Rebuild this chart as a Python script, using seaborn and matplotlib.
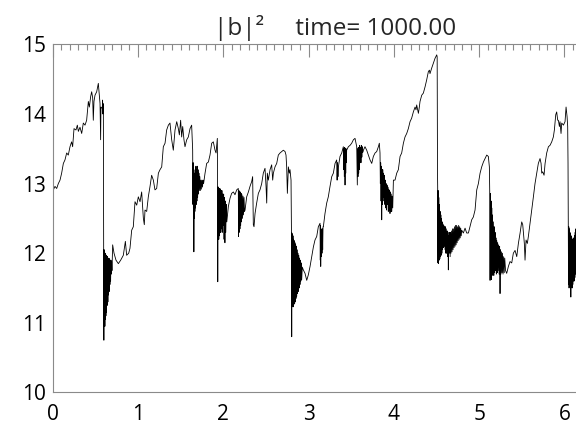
import matplotlib
matplotlib.use("Agg")

import numpy as np
import pandas as pd
import matplotlib.pyplot as plt
from matplotlib.ticker import MultipleLocator
import seaborn as sns

# |b|^2 time series as (time, |b|^2) pairs, one list per cycle
rise_1 = [
    (0.000, 13.15), (0.009, 12.91), (0.028, 12.96), (0.048, 12.93), (0.067, 13.00),
    (0.087, 13.05), (0.106, 13.15), (0.126, 13.29), (0.145, 13.34), (0.165, 13.44),
    (0.184, 13.41), (0.204, 13.53), (0.223, 13.60), (0.235, 13.53), (0.251, 13.79),
    (0.274, 13.77), (0.290, 13.84), (0.302, 13.75), (0.321, 13.81), (0.341, 13.72),
    (0.360, 13.87), (0.380, 13.84), (0.399, 13.91), (0.419, 14.18), (0.431, 14.10),
    (0.446, 14.25), (0.458, 14.32), (0.470, 14.23), (0.477, 13.91), (0.485, 14.18),
    (0.497, 14.27), (0.517, 14.32), (0.536, 14.44), (0.548, 14.27), (0.556, 14.15),
    (0.563, 13.63), (0.567, 14.10), (0.583, 14.08), (0.586, 14.20), (0.589, 14.00),
    (0.592, 14.15), (0.595, 14.05),
]

cycle_2 = [
    (0.598, 12.50), (0.601, 10.75), (0.604, 12.05), (0.607, 11.00), (0.610, 12.00),
    (0.613, 10.95), (0.616, 12.00), (0.619, 11.05), (0.622, 11.98), (0.625, 11.10),
    (0.628, 11.97), (0.632, 11.15), (0.636, 11.95), (0.640, 11.25), (0.644, 11.95),
    (0.648, 11.30), (0.652, 11.93), (0.656, 11.40), (0.660, 11.92), (0.664, 11.45),
    (0.668, 11.92), (0.672, 11.55), (0.676, 11.90), (0.680, 11.60), (0.684, 11.90),
    (0.688, 11.70), (0.692, 11.88), (0.696, 11.75), (0.700, 11.95), (0.704, 12.12),
    (0.720, 12.00), (0.743, 11.90), (0.771, 11.85), (0.798, 11.90), (0.829, 11.97),
    (0.853, 12.17), (0.868, 11.97), (0.892, 12.00), (0.907, 12.07), (0.927, 12.33),
    (0.946, 12.38), (0.966, 12.74), (0.986, 12.69), (1.005, 12.81), (1.025, 12.74),
    (1.044, 12.88), (1.064, 12.50), (1.075, 12.41), (1.083, 12.62), (1.103, 12.60),
    (1.122, 12.81), (1.142, 12.96), (1.161, 13.12), (1.181, 13.05), (1.200, 12.91),
    (1.220, 12.93), (1.240, 13.15), (1.259, 13.20), (1.279, 13.24), (1.298, 13.53),
    (1.318, 13.58), (1.337, 13.77), (1.357, 13.84), (1.376, 13.87), (1.396, 13.63),
    (1.415, 13.48), (1.435, 13.77), (1.455, 13.89), (1.474, 13.79), (1.486, 13.70),
    (1.501, 13.91), (1.513, 13.67), (1.525, 13.82), (1.540, 13.63), (1.552, 13.53),
    (1.572, 13.63), (1.591, 13.67), (1.611, 13.79), (1.630, 13.84),
]

cycle_3 = [
    (1.642, 13.48), (1.645, 12.70), (1.648, 13.30), (1.651, 12.55), (1.654, 13.20),
    (1.656, 12.02), (1.659, 13.10), (1.662, 12.50), (1.665, 13.15), (1.668, 12.60),
    (1.672, 13.20), (1.676, 12.65), (1.680, 13.25), (1.684, 12.70), (1.688, 13.20),
    (1.692, 12.75), (1.696, 13.25), (1.700, 12.80), (1.705, 13.20), (1.710, 12.85),
    (1.715, 13.15), (1.720, 12.90), (1.726, 13.10), (1.732, 12.90), (1.738, 13.05),
    (1.744, 12.92), (1.750, 13.05), (1.757, 12.95), (1.764, 13.05), (1.770, 13.00),
    (1.787, 13.15), (1.806, 13.29), (1.826, 13.31), (1.845, 13.41), (1.865, 13.58),
    (1.884, 13.60), (1.904, 13.48), (1.916, 13.44), (1.931, 13.65),
]

cycle_4 = [
    (1.934, 12.90), (1.936, 11.59), (1.939, 12.95), (1.942, 12.20), (1.945, 12.95),
    (1.948, 12.20), (1.952, 12.93), (1.956, 12.25), (1.960, 12.93), (1.964, 12.30),
    (1.968, 12.92), (1.972, 12.30), (1.976, 12.90), (1.980, 12.35), (1.985, 12.90),
    (1.990, 12.30), (1.995, 12.85), (2.000, 12.40), (2.005, 12.85), (2.010, 12.20),
    (2.015, 12.80), (2.020, 12.15), (2.025, 12.75), (2.030, 12.30), (2.036, 12.70),
    (2.042, 12.45), (2.048, 12.52), (2.060, 12.67), (2.080, 12.79), (2.099, 12.86),
    (2.119, 12.88), (2.138, 12.84), (2.158, 12.91), (2.177, 12.93), (2.180, 12.24),
    (2.184, 12.90), (2.188, 12.30), (2.192, 12.88), (2.196, 12.35), (2.200, 12.88),
    (2.205, 12.40), (2.210, 12.86), (2.215, 12.45), (2.220, 12.84), (2.226, 12.50),
    (2.232, 12.82), (2.238, 12.55), (2.244, 12.80), (2.250, 12.60), (2.256, 12.62),
    (2.275, 12.81), (2.295, 12.88), (2.314, 12.96), (2.334, 13.03), (2.345, 13.10),
    (2.353, 12.41), (2.361, 12.38), (2.373, 12.57), (2.392, 12.72), (2.412, 12.86),
    (2.431, 12.91), (2.451, 13.00), (2.470, 13.15), (2.490, 13.22), (2.502, 12.96),
    (2.510, 12.72), (2.517, 13.15), (2.529, 13.05), (2.549, 13.20), (2.568, 13.27),
    (2.580, 13.05), (2.588, 13.15), (2.607, 13.24), (2.627, 13.29), (2.646, 13.41),
    (2.666, 13.44), (2.685, 13.46), (2.705, 13.48), (2.725, 13.46), (2.736, 13.41),
    (2.744, 13.24), (2.752, 12.86), (2.764, 13.24), (2.775, 13.15), (2.783, 13.20),
    (2.795, 13.05),
]

cycle_5 = [
    (2.800, 12.30), (2.803, 10.80), (2.806, 12.29), (2.809, 11.23), (2.812, 12.27),
    (2.815, 11.25), (2.818, 12.25), (2.821, 11.23), (2.825, 12.20), (2.829, 11.30),
    (2.833, 12.18), (2.837, 11.27), (2.841, 12.15), (2.845, 11.30), (2.849, 12.12),
    (2.853, 11.35), (2.857, 12.10), (2.861, 11.38), (2.865, 12.05), (2.870, 11.42),
    (2.875, 12.00), (2.880, 11.45), (2.885, 11.97), (2.890, 11.50), (2.895, 11.93),
    (2.900, 11.55), (2.905, 11.90), (2.910, 11.60), (2.915, 11.86), (2.920, 11.62),
    (2.927, 11.80), (2.939, 11.76), (2.959, 11.71), (2.979, 11.61), (2.998, 11.69),
    (3.018, 11.81), (3.037, 11.95), (3.057, 12.09), (3.076, 12.19), (3.096, 12.24),
    (3.115, 12.38), (3.135, 12.43), (3.138, 11.90), (3.141, 12.40), (3.143, 11.81),
    (3.147, 12.35), (3.151, 11.95), (3.154, 12.33), (3.158, 12.00), (3.162, 12.35),
    (3.166, 12.05), (3.170, 12.38), (3.174, 12.38), (3.193, 12.57), (3.213, 12.72),
    (3.232, 12.81), (3.252, 12.96), (3.272, 13.10), (3.291, 13.15), (3.311, 13.29),
    (3.330, 13.34), (3.335, 13.05), (3.340, 13.30), (3.345, 13.10), (3.350, 13.24),
    (3.369, 13.39), (3.389, 13.44), (3.408, 13.53), (3.412, 13.20), (3.416, 13.50),
    (3.420, 13.10), (3.424, 13.52), (3.428, 12.98), (3.432, 13.50), (3.436, 13.15),
    (3.440, 13.50), (3.444, 13.30), (3.447, 13.48), (3.467, 13.53), (3.487, 13.55),
    (3.506, 13.58), (3.526, 13.63), (3.545, 13.65), (3.565, 13.53), (3.569, 13.20),
    (3.572, 12.98), (3.576, 13.50), (3.580, 13.10), (3.584, 13.52), (3.588, 13.15),
    (3.592, 13.52), (3.596, 13.20), (3.600, 13.55), (3.605, 13.30), (3.610, 13.52),
    (3.615, 13.30), (3.620, 13.55), (3.625, 13.38), (3.630, 13.53), (3.636, 13.45),
    (3.643, 13.48), (3.662, 13.53), (3.682, 13.48), (3.701, 13.41), (3.721, 13.34),
    (3.741, 13.29), (3.760, 13.39), (3.780, 13.44), (3.799, 13.46), (3.819, 13.53),
    (3.830, 13.58), (3.838, 13.44), (3.842, 13.00), (3.846, 13.30), (3.850, 12.75),
    (3.854, 13.25), (3.858, 12.48), (3.862, 13.20), (3.866, 12.70), (3.870, 13.20),
    (3.875, 12.80), (3.880, 13.15), (3.885, 12.75), (3.890, 13.12), (3.895, 12.70),
    (3.900, 13.05), (3.905, 12.65), (3.910, 13.00), (3.915, 12.62), (3.920, 12.98),
    (3.925, 12.70), (3.930, 12.95), (3.935, 12.60), (3.940, 12.92), (3.945, 12.62),
    (3.950, 12.90), (3.955, 12.57), (3.960, 12.88), (3.965, 12.60), (3.970, 12.85),
    (3.975, 12.60), (3.980, 12.82), (3.987, 12.65), (3.995, 13.05), (4.014, 13.05),
    (4.034, 13.15), (4.053, 13.20), (4.073, 13.39), (4.092, 13.44), (4.112, 13.58),
    (4.131, 13.67), (4.151, 13.72), (4.170, 13.79), (4.190, 13.89), (4.209, 13.94),
    (4.229, 14.03), (4.249, 14.10), (4.260, 14.06), (4.268, 14.13), (4.288, 14.01),
    (4.299, 14.10), (4.307, 14.18), (4.327, 14.27), (4.346, 14.30), (4.366, 14.39),
    (4.385, 14.49), (4.405, 14.61), (4.417, 14.63), (4.424, 14.58), (4.444, 14.66),
    (4.463, 14.73), (4.483, 14.80), (4.503, 14.85), (4.508, 14.82),
]

cycle_6 = [
    (4.512, 13.15), (4.514, 12.96), (4.517, 11.86), (4.520, 12.90), (4.523, 11.85),
    (4.527, 12.80), (4.531, 11.90), (4.535, 12.70), (4.539, 11.92), (4.543, 12.60),
    (4.547, 11.95), (4.551, 12.55), (4.555, 11.97), (4.559, 12.50), (4.563, 12.00),
    (4.567, 12.45), (4.571, 12.05), (4.575, 12.42), (4.580, 12.08), (4.585, 12.40),
    (4.590, 12.10), (4.595, 12.38), (4.600, 12.05), (4.605, 12.38), (4.610, 12.00),
    (4.615, 12.35), (4.620, 12.00), (4.625, 12.32), (4.630, 11.95), (4.635, 12.30),
    (4.639, 11.76), (4.643, 12.25), (4.650, 12.00), (4.655, 12.30), (4.660, 11.95),
    (4.665, 12.30), (4.670, 12.00), (4.676, 12.32), (4.682, 12.02), (4.688, 12.35),
    (4.694, 12.05), (4.700, 12.35), (4.706, 12.08), (4.712, 12.38), (4.718, 12.10),
    (4.724, 12.40), (4.730, 12.12), (4.736, 12.40), (4.742, 12.15), (4.748, 12.38),
    (4.754, 12.18), (4.760, 12.40), (4.766, 12.20), (4.772, 12.38), (4.778, 12.22),
    (4.784, 12.36), (4.790, 12.25), (4.796, 12.33), (4.815, 12.29), (4.835, 12.36),
    (4.854, 12.29), (4.874, 12.29), (4.893, 12.38), (4.913, 12.48), (4.932, 12.52),
    (4.952, 12.62), (4.972, 12.91), (4.991, 13.00), (5.011, 13.15), (5.030, 13.24),
    (5.050, 13.31), (5.069, 13.36), (5.089, 13.41), (5.108, 13.39), (5.120, 13.24),
]

cycle_7 = [
    (5.124, 12.90), (5.128, 11.61), (5.132, 12.86), (5.136, 11.65), (5.140, 12.75),
    (5.144, 11.62), (5.148, 12.65), (5.152, 11.68), (5.157, 12.55), (5.162, 11.70),
    (5.167, 12.45), (5.172, 11.68), (5.177, 12.38), (5.182, 11.72), (5.187, 12.30),
    (5.192, 11.75), (5.197, 12.22), (5.202, 11.70), (5.207, 12.18), (5.212, 11.72),
    (5.217, 12.15), (5.222, 11.75), (5.228, 12.12), (5.234, 11.70), (5.240, 12.10),
    (5.245, 11.42), (5.250, 12.05), (5.256, 11.70), (5.262, 12.02), (5.268, 11.72),
    (5.274, 12.00), (5.280, 11.70), (5.287, 11.95), (5.294, 11.72), (5.300, 11.93),
    (5.310, 11.75), (5.323, 11.71), (5.343, 11.81), (5.362, 11.88), (5.382, 11.86),
    (5.401, 12.00), (5.421, 12.04), (5.441, 11.95), (5.460, 12.14), (5.480, 12.29),
    (5.499, 12.45), (5.511, 12.41), (5.519, 12.29), (5.530, 12.14), (5.538, 11.90),
    (5.550, 12.19), (5.565, 12.14), (5.577, 12.24), (5.597, 12.43), (5.616, 12.62),
    (5.636, 12.81), (5.655, 13.00), (5.675, 13.15), (5.694, 13.29), (5.714, 13.36),
    (5.726, 13.29), (5.734, 13.15), (5.745, 13.17), (5.761, 13.12), (5.773, 13.29),
    (5.792, 13.44), (5.812, 13.53), (5.831, 13.55), (5.851, 13.60), (5.870, 13.67),
    (5.882, 13.77), (5.898, 13.99), (5.909, 14.03), (5.921, 13.91), (5.929, 13.91),
    (5.941, 13.82), (5.948, 13.89), (5.960, 13.72), (5.968, 13.87), (5.988, 13.84),
    (6.007, 13.89), (6.019, 14.10), (6.031, 13.96), (6.038, 13.82),
]

cycle_8 = [
    (6.042, 13.29), (6.045, 12.40), (6.048, 11.55), (6.051, 12.38), (6.054, 11.50),
    (6.057, 12.35), (6.060, 11.55), (6.064, 12.30), (6.068, 11.52), (6.072, 12.28),
    (6.075, 11.37), (6.078, 12.25), (6.082, 11.55), (6.086, 12.22), (6.090, 11.50),
    (6.094, 12.20), (6.098, 11.55), (6.102, 12.20), (6.106, 11.60), (6.110, 12.22),
    (6.114, 11.60), (6.118, 12.25), (6.122, 11.65), (6.126, 12.30), (6.130, 11.70),
    (6.134, 12.35), (6.138, 11.80), (6.142, 12.40), (6.150, 12.30), (6.170, 12.35),
    (6.200, 12.40), (6.240, 12.45), (6.283, 12.50),
]

x_ticks = [0, 1, 2, 3, 4, 5, 6]
y_ticks = [10, 11, 12, 13, 14, 15]
title_text = "|b|²     time= 1000.00"

segments = [rise_1, cycle_2, cycle_3, cycle_4, cycle_5, cycle_6, cycle_7, cycle_8]
df = pd.DataFrame([p for seg in segments for p in seg], columns=["time", "b2"])

sns.set_theme(style="white")
plt.rcParams["font.family"] = ["Open Sans", "DejaVu Sans"]

W, H = 576, 423
fig = plt.figure(figsize=(W / 100, H / 100), dpi=100)
# plot box runs past the right edge of the image, as in the reference
ax = fig.add_axes([52.6 / W, 1 - 392.4 / H, 536.0 / W, 348.0 / H])

sns.lineplot(data=df, x="time", y="b2", estimator=None, sort=False,
             color="black", linewidth=0.6, ax=ax)

ax.set_xlim(0, 2 * np.pi)
ax.set_ylim(10, 15)
ax.set_xticks(x_ticks)
ax.set_yticks(y_ticks)
ax.xaxis.set_minor_locator(MultipleLocator(0.1))
ax.yaxis.set_minor_locator(MultipleLocator(0.1))
ax.set_xlabel("")
ax.set_ylabel("")

axis_grey = "#8a8a8a"
ax.tick_params(which="both", direction="in", top=True, right=True,
               color=axis_grey, width=0.8, labelsize=15, labelcolor="black")
ax.tick_params(which="major", length=9)
ax.tick_params(which="minor", length=4.5)
ax.tick_params(axis="x", which="major", pad=8)
ax.tick_params(axis="y", which="major", pad=4.5)
for s in ax.spines.values():
    s.set_color(axis_grey)
    s.set_linewidth(0.8)

fig.text(335 / W, 1 - 35 / H, title_text, ha="center", va="baseline", fontsize=17.5)

fig.savefig("out.png", dpi=100)
